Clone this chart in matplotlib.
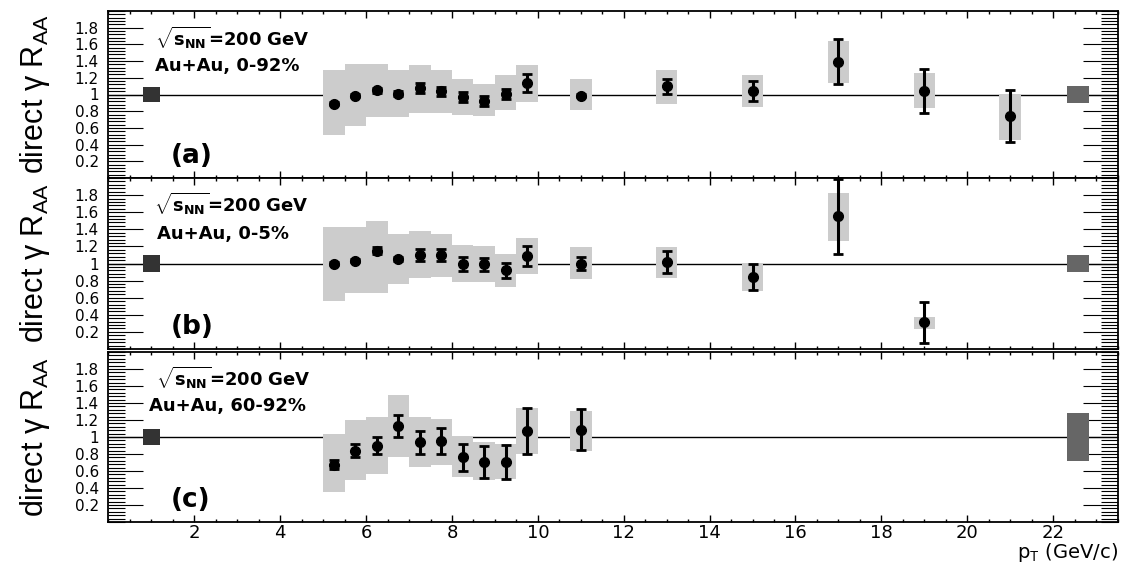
import matplotlib
matplotlib.use("Agg")
import matplotlib.pyplot as plt
from matplotlib.ticker import FixedLocator, MultipleLocator
import numpy as np

plt.rcParams['font.family'] = ['DejaVu Sans']
plt.rcParams['mathtext.fontset'] = 'custom'
plt.rcParams['mathtext.rm'] = 'Liberation Sans'
plt.rcParams['mathtext.bf'] = 'DejaVu Sans:bold'
plt.rcParams['mathtext.it'] = 'DejaVu Sans:italic'

# pT bin centres
pt_low = [5.25, 5.75, 6.25, 6.75, 7.25, 7.75, 8.25, 8.75, 9.25, 9.75]

# (a) Au+Au 0-92%
pt_a = pt_low + [11, 13, 15, 17, 19, 21]
raa_a = [0.89, 0.985, 1.05, 1.01, 1.08, 1.04, 0.97, 0.925, 1.01, 1.14,
         0.985, 1.10, 1.04, 1.39, 1.04, 0.745]
stat_a = [0.02, 0.02, 0.03, 0.03, 0.06, 0.055, 0.065, 0.06, 0.06, 0.11,
          0.02, 0.09, 0.12, 0.27, 0.26, 0.31]
sys_lo_a = [0.52, 0.62, 0.73, 0.73, 0.78, 0.78, 0.76, 0.74, 0.82, 0.91,
            0.81, 0.89, 0.85, 1.14, 0.84, 0.46]
sys_hi_a = [1.29, 1.36, 1.36, 1.29, 1.35, 1.29, 1.19, 1.13, 1.23, 1.35,
            1.18, 1.29, 1.23, 1.64, 1.26, 1.01]

# (b) Au+Au 0-5%
pt_b = pt_low + [11, 13, 15, 17, 19]
raa_b = [1.0, 1.035, 1.15, 1.055, 1.105, 1.10, 0.995, 0.99, 0.92, 1.085,
         1.0, 1.015, 0.84, 1.55, 0.31]
stat_b = [0.02, 0.02, 0.04, 0.02, 0.07, 0.07, 0.08, 0.08, 0.085, 0.12,
          0.08, 0.13, 0.15, 0.44, 0.235]
sys_lo_b = [0.565, 0.65, 0.65, 0.755, 0.83, 0.84, 0.78, 0.78, 0.72, 0.88,
            0.82, 0.83, 0.68, 1.26, 0.235]
sys_hi_b = [1.43, 1.43, 1.50, 1.35, 1.38, 1.34, 1.22, 1.20, 1.11, 1.30,
            1.19, 1.19, 0.99, 1.83, 0.38]

# (c) Au+Au 60-92%
pt_c = pt_low + [11]
raa_c = [0.675, 0.84, 0.90, 1.125, 0.94, 0.953, 0.76, 0.705, 0.705, 1.07, 1.085]
stat_c = [0.05, 0.08, 0.10, 0.13, 0.135, 0.15, 0.16, 0.19, 0.20, 0.27, 0.24]
sys_lo_c = [0.35, 0.49, 0.565, 0.76, 0.645, 0.67, 0.525, 0.49, 0.51, 0.80, 0.84]
sys_hi_c = [1.035, 1.20, 1.23, 1.50, 1.23, 1.215, 1.00, 0.94, 0.92, 1.34, 1.31]

# global normalisation uncertainties (left: Ncoll, right: p+p)
norm_left = [0.092, 0.096, 0.09]
norm_right = [0.10, 0.097, 0.28]

centrality = ['0-92%', '0-5%', '60-92%']
tags = ['(a)', '(b)', '(c)']
ytick_vals = [0.2, 0.4, 0.6, 0.8, 1.0, 1.2, 1.4, 1.6, 1.8]
ytick_text = ['0.2', '0.4', '0.6', '0.8', '1', '1.2', '1.4', '1.6', '1.8']
xtick_vals = [2, 4, 6, 8, 10, 12, 14, 16, 18, 20, 22]

panels = [
    (pt_a, raa_a, stat_a, sys_lo_a, sys_hi_a),
    (pt_b, raa_b, stat_b, sys_lo_b, sys_hi_b),
    (pt_c, raa_c, stat_c, sys_lo_c, sys_hi_c),
]

W, H = 1122, 565
fig = plt.figure(figsize=(W / 100, H / 100), dpi=100)
x0, x1 = 108.5, 1117.5
frames = [(11, 178), (178, 349), (352, 522)]

# where the label text sits inside each panel (data coords)
txt_pos = [((1.08, 1.68), (1.08, 1.345)),
           ((1.06, 1.70), (1.14, 1.345)),
           ((1.11, 1.70), (0.95, 1.36))]

for i, (pt, raa, stat, lo, hi) in enumerate(panels):
    top, bot = frames[i]
    ax = fig.add_axes([x0 / W, 1 - bot / H, (x1 - x0) / W, (bot - top) / H])
    ax.set_xlim(0, 23.5)
    ax.set_ylim(0, 2)

    ax.axhline(1.0, color='black', lw=1.0, zorder=1)

    lo = np.array(lo)
    hi = np.array(hi)
    ax.bar(pt, hi - lo, bottom=lo, width=0.5, color='#cccccc',
           edgecolor='none', zorder=2)

    ax.bar([1.0], [2 * norm_left[i]], bottom=[1 - norm_left[i]], width=0.4,
           color='#333333', edgecolor='none', zorder=2)
    ax.bar([22.58], [2 * norm_right[i]], bottom=[1 - norm_right[i]], width=0.5,
           color='#666666', edgecolor='none', zorder=2)

    ax.errorbar(pt, raa, yerr=stat, fmt='o', color='black', ms=7,
                elinewidth=2.2, capsize=3.5, capthick=2, zorder=3)

    (sx, sy), (cx, cy) = txt_pos[i]
    ax.text(sx, sy, r'$\sqrt{\mathbf{s}_{\mathbf{NN}}}$=200 GeV', fontsize=13,
            fontweight='bold', va='center', ha='left')
    ax.text(cx, cy, 'Au+Au, ' + centrality[i], fontsize=13,
            fontweight='bold', va='center', ha='left')
    ax.text(1.45, 0.26, tags[i], fontsize=19, fontweight='bold',
            va='center', ha='left')

    ax.yaxis.set_major_locator(FixedLocator(ytick_vals))
    ax.set_yticklabels(ytick_text)
    ax.yaxis.set_minor_locator(MultipleLocator(0.04))
    ax.xaxis.set_major_locator(FixedLocator(xtick_vals))
    ax.xaxis.set_minor_locator(MultipleLocator(0.5))

    ax.tick_params(axis='y', which='major', direction='in', length=25,
                   width=0.8, left=True, right=True, labelsize=11, pad=7)
    ax.tick_params(axis='y', which='minor', direction='in', length=12.5,
                   width=0.8, left=True, right=True)
    ax.tick_params(axis='x', which='major', direction='in', length=5,
                   width=1.0, top=True, bottom=True, labelsize=13, pad=1.5)
    ax.tick_params(axis='x', which='minor', direction='in', length=2.5,
                   width=1.0, top=True, bottom=True)
    if i < 2:
        ax.tick_params(axis='x', labelbottom=False)
    else:
        ax.set_xticklabels([str(v) for v in xtick_vals])

    for sp in ax.spines.values():
        sp.set_linewidth(1.3)

    ax.set_ylabel(r'direct γ R$_{\mathrm{AA}}$', fontsize=22,
                  family='Liberation Sans')
    ax.yaxis.set_label_coords(-0.056, 0.5)

fig.text(x1 / W, 1 - 564 / H, r'p$_{\mathrm{T}}$ (GeV/c)', fontsize=14,
         ha='right', va='bottom')

fig.savefig('out.png', dpi=100)
